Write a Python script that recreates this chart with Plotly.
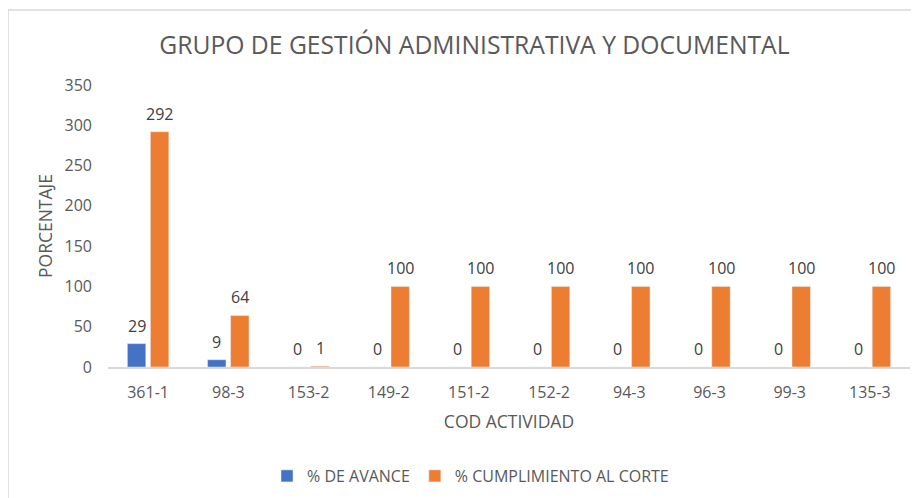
import plotly.graph_objects as go

categorias = ["361-1", "98-3", "153-2", "149-2", "151-2", "152-2", "94-3", "96-3", "99-3", "135-3"]
avance = [29, 9, 0, 0, 0, 0, 0, 0, 0, 0]
cumplimiento = [292, 64, 1, 100, 100, 100, 100, 100, 100, 100]
y_ticks = [0, 50, 100, 150, 200, 250, 300, 350]

AZUL = "#4472C4"
NARANJA = "#ED7D31"
GRIS_TXT = "#595959"
FONT = "Open Sans"

fig = go.Figure()
fig.add_trace(go.Bar(x=categorias, y=avance, name="% DE AVANCE", marker_color=AZUL))
fig.add_trace(go.Bar(x=categorias, y=cumplimiento, name="% CUMPLIMIENTO AL CORTE", marker_color=NARANJA))

# data labels
for serie, shift in ((avance, -11.5), (cumplimiento, 11.5)):
    for c, v in zip(categorias, serie):
        fig.add_annotation(x=c, y=v, text=str(v), showarrow=False, xshift=shift, yshift=18,
                           yanchor="middle", font=dict(family=FONT, size=16, color="#404040"))

# page body has an 8px margin; figure coordinates are screen coordinates minus OFF
OFF = 8
W, H = 919 - OFF, 498 - OFF
L, T = 108 - OFF, 85 - OFF
R = W - (910 - OFF)
B = H - (367 - OFF)
pw, ph = W - L - R, H - T - B
def px_x(p):
    return (p - OFF - L) / pw
def px_y(p):
    return (H - B - (p - OFF)) / ph

fig.add_shape(type="rect", xref="paper", yref="paper",
              x0=px_x(8), x1=px_x(960), y0=px_y(540), y1=px_y(10),
              line=dict(color="#D9D9D9", width=1.5), fillcolor="rgba(0,0,0,0)", layer="below")

fig.update_layout(
    width=W, height=H,
    margin=dict(l=L, r=R, t=T, b=B, autoexpand=False),
    paper_bgcolor="white", plot_bgcolor="white",
    barmode="group", bargap=0.426, bargroupgap=0.2,
    font=dict(family=FONT, size=16, color=GRIS_TXT),
    title=dict(text="GRUPO DE GESTIÓN ADMINISTRATIVA Y DOCUMENTAL", x=0.512, xanchor="center",
               y=1 - (45 - OFF) / H, yanchor="middle", font=dict(family=FONT, size=24.7, color=GRIS_TXT)),
    showlegend=True,
    legend=dict(orientation="h", x=0.452, xanchor="center", y=px_y(476), yanchor="middle",
                font=dict(family=FONT, size=16, color=GRIS_TXT), itemwidth=30, traceorder="normal"),
    xaxis=dict(type="category", showgrid=False, showline=True, linecolor="#D9D9D9", linewidth=1.5,
               ticks="", automargin=False, tickfont=dict(family=FONT, size=16, color=GRIS_TXT),
               ticklabelstandoff=10,
               title=dict(text="COD ACTIVIDAD", standoff=14, font=dict(family=FONT, size=17.5, color=GRIS_TXT))),
    yaxis=dict(range=[0, 350], tickvals=y_ticks, showgrid=False, zeroline=False, showline=False,
               ticks="", automargin=False, tickfont=dict(family=FONT, size=16, color=GRIS_TXT), ticklabelstandoff=15,
               title=dict(text="PORCENTAJE", standoff=7, font=dict(family=FONT, size=17.5, color=GRIS_TXT))),
)

fig.write_html("out.html")
